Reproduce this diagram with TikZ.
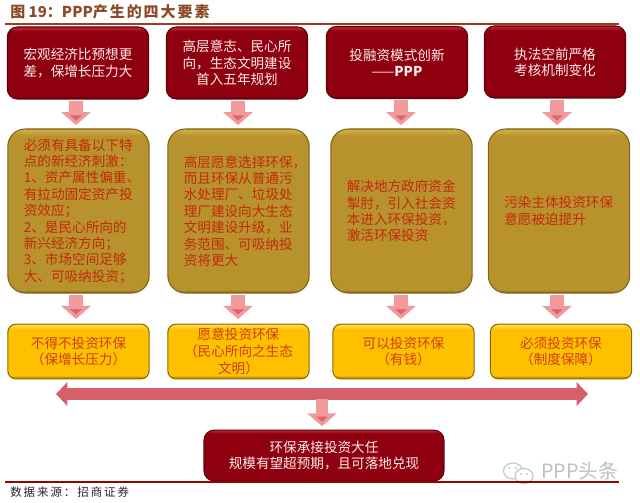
\documentclass[tikz,border=0pt]{standalone}
\usepackage{xcolor}
\usepackage{fontspec}
\setmainfont{Noto Sans CJK SC}
\newfontfamily\ttlfont[LetterSpace=13]{Noto Sans CJK SC}
\newfontfamily\srcfont[LetterSpace=17]{Noto Sans CJK SC}
\usetikzlibrary{calc,arrows.meta,positioning}
\definecolor{redc}{HTML}{8E0010}
\definecolor{redrim}{HTML}{B8202C}
\definecolor{reddk}{HTML}{5E000C}
\definecolor{goldc}{HTML}{B8922C}
\definecolor{goldrim}{HTML}{D0AC48}
\definecolor{golddk}{HTML}{7E6418}
\definecolor{yelc}{HTML}{FFC000}
\definecolor{yelrim}{HTML}{FFD84A}
\definecolor{yeldk}{HTML}{8A6C00}
\definecolor{goldtxt}{HTML}{C42A0C}
\definecolor{yeltxt}{HTML}{CC3F10}
\definecolor{ttlc}{HTML}{8C4A28}
\definecolor{shaftc}{HTML}{F09A9C}
\definecolor{headc}{HTML}{E0646E}
\definecolor{longc}{HTML}{D5606A}
\pgfdeclareverticalshading{redbevel}{100bp}{color(0bp)=(reddk);color(25bp)=(reddk);color(27bp)=(redc);color(72bp)=(redc);color(74bp)=(redrim);color(100bp)=(redrim)}
\pgfdeclareverticalshading{goldbevel}{100bp}{color(0bp)=(golddk);color(25bp)=(golddk);color(26bp)=(goldc);color(73bp)=(goldc);color(74.5bp)=(goldrim);color(100bp)=(goldrim)}
\pgfdeclareverticalshading{yelbevel}{100bp}{color(0bp)=(yeldk);color(25bp)=(yeldk);color(28bp)=(yelc);color(70bp)=(yelc);color(74bp)=(yelrim);color(100bp)=(yelrim)}
\tikzset{
  redbox/.style={shade,shading=redbevel,draw=reddk,thick,rounded corners=7.5pt,minimum width=106pt,minimum height=54pt,align=center,text=white!92!red,font=\fontsize{10.2}{12.2}\selectfont,inner sep=0pt},
  goldbox/.style={shade,shading=goldbevel,draw=golddk,thick,rounded corners=13pt,minimum width=106pt,minimum height=123pt,align=left,text width=82pt,text=goldtxt,font=\fontsize{10.2}{12.3}\selectfont,inner sep=0pt},
  yelbox/.style={shade,shading=yelbevel,draw=yeldk,thick,rounded corners=6pt,minimum width=106pt,minimum height=41pt,align=center,text=yeltxt,font=\fontsize{10.2}{12.5}\selectfont,inner sep=0pt},
  ar/.style={-{Triangle[length=9.75pt,width=21.75pt,fill=headc]},line width=11pt,shaftc},
  longar/.style={{Triangle[length=8.5pt,width=17.5pt]}-{Triangle[length=8.5pt,width=17.5pt]},line width=8.5pt,longc}
}

\begin{document}
\begin{tikzpicture}[x=0.75pt,y=-0.75pt]
\useasboundingbox (0,0) rectangle (640,503);
% title and rules
\node[anchor=west,inner sep=0pt,ttlc,font=\fontsize{11.25}{13}\selectfont\bfseries] (ttl) at (10,12) {图 19：PPP{\ttlfont 产生的四大要素}};
\coordinate (tl) at (5,24);
\coordinate (tr) at (619,24);
\draw[ttlc!80!red,line width=1.2pt] (tl)--(tr);
% top row
\node[redbox] (t1) at (78,63) {宏观经济比预想更\\差，保增长压力大};
\node[redbox] (t2) at (237,63) {高层意志、民心所\\向，生态文明建设\\首入五年规划};
\node[redbox] (t3) at (397,62.5) {投融资模式创新\\——\textbf{PPP}};
\node[redbox] (t4) at (555,62) {执法空前严格\\考核机制变化};
% middle row
\node[goldbox] (m1) at (78.5,211) {必须有具备以下特\\点的新经济刺激：\\1、资产属性偏重、\\有拉动固定资产投\\资效应；\\2、是民心所向的\\新兴经济方向；\\3、市场空间足够\\大、可吸纳投资；};
\node[goldbox] (m2) at (238.5,211) {高层愿意选择环保，\\而且环保从普通污\\水处理厂、垃圾处\\理厂建设向大生态\\文明建设升级，业\\务范围、可吸纳投\\资将更大};
\node[goldbox] (m3) at (401.5,211) {解决地方政府资金\\掣肘，引入社会资\\本进入环保投资，\\激活环保投资};
\node[goldbox] (m4) at (559,211) {污染主体投资环保\\意愿被迫提升};
% bottom row
\node[yelbox] (b1) at (78.5,351.5) {不得不投资环保\\（保增长压力）};
\node[yelbox] (b2) at (238.5,351.5) {愿意投资环保\\（民心所向之生态\\文明）};
\node[yelbox] (b3) at (403.5,351.5) {可以投资环保\\（有钱）};
\node[yelbox] (b4) at (561,351.5) {必须投资环保\\（制度保障）};
% arrows between rows
\foreach \n/\ax in {1/76,2/238,3/401,4/557}{
  \draw[ar,shorten <=1pt,shorten >=2.5pt] (\ax,0 |- t\n.south) -- (\ax,0 |- m\n.north);
  \draw[ar,shorten <=1pt,shorten >=3.5pt] (\ax,0 |- m\n.south) -- (\ax,0 |- b\n.north);
}
% long arrow and result
\node[redbox,minimum width=180pt,minimum height=38pt] (res) at (324,455.5) {环保承接投资大任\\规模有望超预期，且可落地兑现};
\coordinate (la) at (56,394);
\coordinate (lb) at (588,394);
\coordinate (lc) at (322,399);
\draw[longar] (la)--(lb);
\draw[ar,line width=9.5pt,shorten >=2.5pt] (lc) -- (lc |- res.north);
% source rule
\coordinate (bl) at (5,482);
\coordinate (br) at (619,482);
% watermark
\draw[gray!45,fill=white,line width=0.9pt] (513,471) ellipse (9.5 and 8);
\draw[gray!45,fill=white,line width=0.9pt] (524,476) ellipse (9 and 7.5);
\fill[gray!45] (509,468) circle (1.2) (516,468) circle (1.2) (521,474) circle (1.1) (527,474) circle (1.1);
\node[anchor=west,inner sep=0pt,gray!50,font=\fontsize{14.8}{16}\selectfont] (wm) at (541,470.5) {PPP头条};
\draw[red!60!black,line width=1.3pt] (bl)--(br);
\node[anchor=west,inner sep=0pt,black!85,font=\fontsize{8.6}{10}\selectfont] (src) at (10,492.5) {\srcfont 数据来源：招商证券};
\end{tikzpicture}
\end{document}
